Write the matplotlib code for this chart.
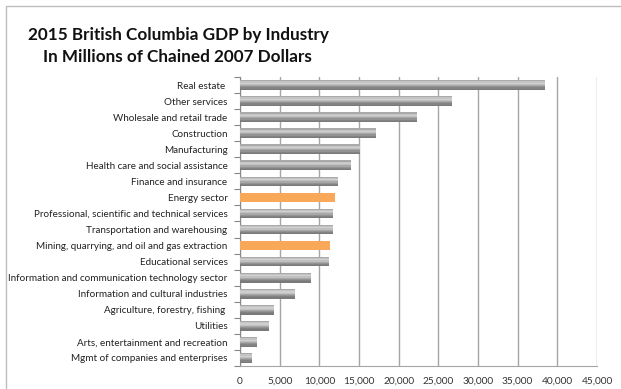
import matplotlib
matplotlib.use("Agg")
import matplotlib.pyplot as plt
import numpy as np
from matplotlib.patches import Rectangle

categories = [
    "Real estate ",
    "Other services",
    "Wholesale and retail trade",
    "Construction",
    "Manufacturing",
    "Health care and social assistance",
    "Finance and insurance",
    "Energy sector",
    "Professional, scientific and technical services",
    "Transportation and warehousing",
    "Mining, quarrying, and oil and gas extraction",
    "Educational services",
    "Information and communication technology sector",
    "Information and cultural industries",
    "Agriculture, forestry, fishing ",
    "Utilities",
    "Arts, entertainment and recreation",
    "Mgmt of companies and enterprises",
]
values = [38500, 26700, 22300, 17200, 15100, 14000, 12300, 12000, 11700, 11700,
          11300, 11200, 8900, 6900, 4250, 3600, 2100, 1500]
highlight = ["Energy sector", "Mining, quarrying, and oil and gas extraction"]
xticks = [0, 5000, 10000, 15000, 20000, 25000, 30000, 35000, 40000, 45000]

plt.rcParams['font.family'] = ['Lato', 'DejaVu Sans']

W, H = 621, 389
fig = plt.figure(figsize=(W / 100, H / 100), dpi=100)
fig.patch.set_facecolor("white")

# outer border
fig.add_artist(Rectangle((6 / W, -0.05), 1.2, (H - 6) / H + 0.05, transform=fig.transFigure,
                         fill=False, edgecolor="#bdbdbd", linewidth=1.0))

left, right, top, bottom = 240, 597, 77, 366
ax = fig.add_axes([left / W, 1 - bottom / H, (right - left) / W, (bottom - top) / H])

n = len(categories)
ypos = np.arange(n)
bar_h = 0.6
# gradient slices for gray cylinder bars
grad = ["#a9a9a9", "#c4c4c4", "#cfcfcf", "#c0c0c0", "#a8a8a8", "#939393", "#838383", "#7a7a7a"]
ns = len(grad)
for i, (c, v) in enumerate(zip(categories, values)):
    if c in highlight:
        ax.barh(i, v, height=bar_h, color="#f9a85a", zorder=3)
    else:
        for k, col in enumerate(grad):
            y0 = i - bar_h / 2 + k * bar_h / ns
            ax.barh(y0, v, height=bar_h / ns, align="edge", color=col, zorder=3, linewidth=0)

ax.set_ylim(n - 0.5, -0.5)
ax.set_xlim(0, 45000)
ax.set_xticks(xticks)
ax.set_xticklabels([f"{t:,}" for t in xticks], fontsize=7.3, color="#333333")
ax.set_yticks(ypos)
ax.set_yticklabels(categories, fontsize=7.1, color="#222222")
ax.set_yticks(np.arange(n + 1) - 0.5, minor=True)
ax.tick_params(axis="y", which="major", length=0, pad=9)
ax.tick_params(axis="y", which="minor", length=4, color="#888888", width=0.8)
ax.tick_params(axis="x", length=0, pad=8)
ax.grid(axis="x", color="#a5a5a5", linewidth=1.0, zorder=0)
for s in ["top", "right"]:
    ax.spines[s].set_visible(False)
ax.spines["left"].set_color("#888888")
ax.spines["bottom"].set_color("#a5a5a5")
ax.spines["left"].set_linewidth(0.8)

fig.text(178 / W, 1 - 35 / H, "2015 British Columbia GDP by Industry", ha="center", va="center",
         fontsize=12.3, fontweight="bold", color="#111111")
fig.text(177 / W, 1 - 57 / H, "In Millions of Chained 2007 Dollars", ha="center", va="center",
         fontsize=12.3, fontweight="bold", color="#111111")

fig.savefig("out.png", dpi=100, facecolor="white")
